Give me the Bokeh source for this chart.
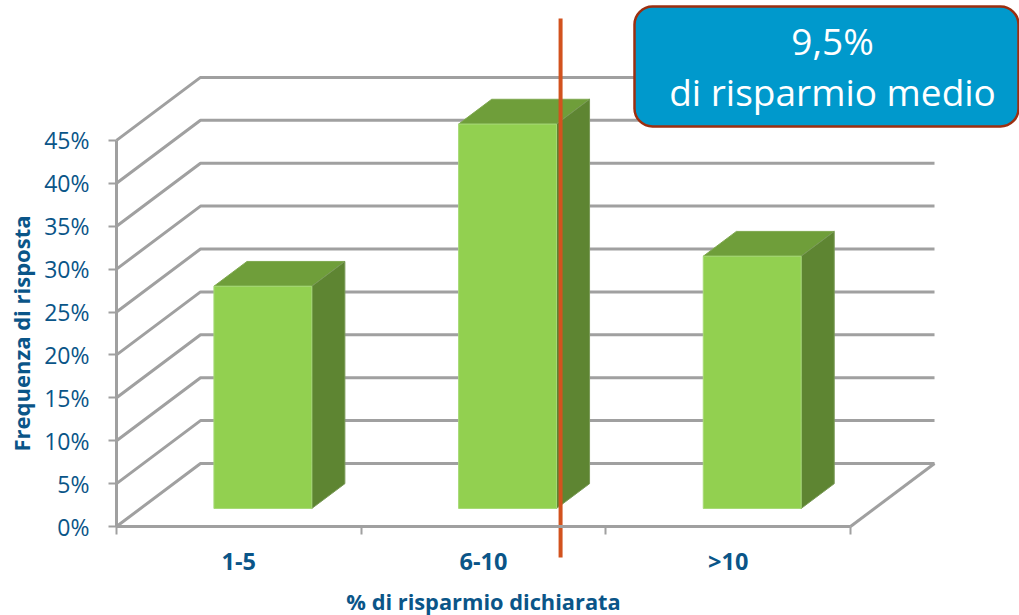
from bokeh.plotting import figure
from bokeh.models import Range1d, FixedTicker, Label, BoxAnnotation
from bokeh.embed import file_html
from bokeh.resources import INLINE

categories = ["1-5", "6-10", ">10"]
values = [25.9, 44.8, 29.4]
y_ticks = [0, 5, 10, 15, 20, 25, 30, 35, 40, 45]
y_tick_labels = ["0%", "5%", "10%", "15%", "20%", "25%", "30%", "35%", "40%", "45%"]
x_title = "% di risparmio dichiarata"
y_title = "Frequenza di risposta"
callout = ["9,5%", "di risparmio medio"]
mean_position = 1.815

# layout constants (canvas pixels)
W, H = 1019, 615
X0, Y0 = 116, 526
PX_X, PX_Y = 244.67, 8.58
DX, DY = 84 / PX_X, 63 / PX_Y
F0, F1 = 0.286, 0.68
BAR_W = 0.40

GRID = "#A0A0A0"
BLUE = "#0A5588"
AXF = "Open Sans"

def X(px):
    return (px - X0) / PX_X

def Y(py):
    return (Y0 - py) / PX_Y

p = figure(width=W, height=H, output_backend="svg", toolbar_location=None,
           x_range=Range1d(X(0), X(W)), y_range=Range1d(Y(H), Y(0)),
           min_border_left=0, min_border_right=0, min_border_top=0, min_border_bottom=0,
           background_fill_color=None, border_fill_color=None, outline_line_color=None)
p.grid.visible = False

ax = p.yaxis[0]
ax.fixed_location = 0
ax.ticker = FixedTicker(ticks=y_ticks)
ax.major_label_overrides = dict(zip(y_ticks, y_tick_labels))
ax.bounds = (0, 45)
ax.axis_line_color = GRID
ax.axis_line_width = 3
ax.major_tick_line_color = GRID
ax.major_tick_line_width = 2
ax.major_tick_out = 8
ax.major_tick_in = 0
ax.minor_tick_line_color = None
ax.major_label_text_color = BLUE
ax.major_label_text_font = AXF
ax.major_label_text_font_size = "23px"
ax.major_label_standoff = 19

bx = p.xaxis[0]
bx.fixed_location = 0
centers = [i + 0.5 for i in range(len(categories))]
bx.ticker = FixedTicker(ticks=centers, minor_ticks=list(range(len(categories) + 1)))
bx.major_label_overrides = dict(zip(centers, categories))
bx.bounds = (0, 3)
bx.axis_line_color = GRID
bx.axis_line_width = 3
bx.major_tick_line_color = None
bx.minor_tick_line_color = GRID
bx.minor_tick_line_width = 2
bx.minor_tick_out = 8
bx.minor_tick_in = 0
bx.major_tick_out = 0
bx.major_tick_in = 0
bx.major_label_text_color = BLUE
bx.major_label_text_font = AXF
bx.major_label_text_font_style = "bold"
bx.major_label_text_font_size = "23.5px"
bx.major_label_standoff = 10

# perspective grid
for v in y_ticks:
    p.line([0, DX, 3 + DX], [v, v + DY, v + DY], line_color=GRID, line_width=3)
p.line([3, 3 + DX], [0, DY], line_color=GRID, line_width=3)

# 3D bars
for i, v in enumerate(values):
    xl = centers[i] - BAR_W / 2 + F0 * DX
    xr = xl + BAR_W
    yb = F0 * DY
    yt = yb + v
    sx, sy = (F1 - F0) * DX, (F1 - F0) * DY
    p.patch([xl, xr, xr + sx, xl + sx], [yt, yt, yt + sy, yt + sy],
            fill_color="#6F9E3A", line_color="#7FA850", line_width=1)
    p.patch([xr, xr + sx, xr + sx, xr], [yb, yb + sy, yt + sy, yt],
            fill_color="#5E8532", line_color="#7A9A58", line_width=1)
    p.patch([xl, xr, xr, xl], [yb, yb, yt, yt],
            fill_color="#92D050", line_color="#A6D977", line_width=1)

# mean marker
p.line([mean_position, mean_position], [Y(557), Y(18)], line_color="#D2521E", line_width=4)

# callout
p.add_layout(BoxAnnotation(left=X(634), right=X(1018), top=Y(6), bottom=Y(126),
                           fill_color="#0099CC", fill_alpha=1, line_color="#9C2F10", line_alpha=1,
                           line_width=2.5, border_radius=18))
for txt, py in zip(callout, [40, 91]):
    p.add_layout(Label(x=X(832), y=Y(py), text=txt, text_color="white", text_font=AXF,
                       text_font_size="37px", text_align="center", text_baseline="middle"))

# axis titles
p.add_layout(Label(x=X(483), y=Y(601), text=x_title, text_color=BLUE, text_font=AXF,
                   text_font_style="bold", text_font_size="21.8px",
                   text_align="center", text_baseline="middle"))
p.add_layout(Label(x=X(20), y=Y(333), text=y_title, text_color=BLUE, text_font=AXF,
                   text_font_style="bold", text_font_size="22px", angle=90, angle_units="deg",
                   text_align="center", text_baseline="middle"))

open("out.html", "w").write(file_html(p, INLINE))
